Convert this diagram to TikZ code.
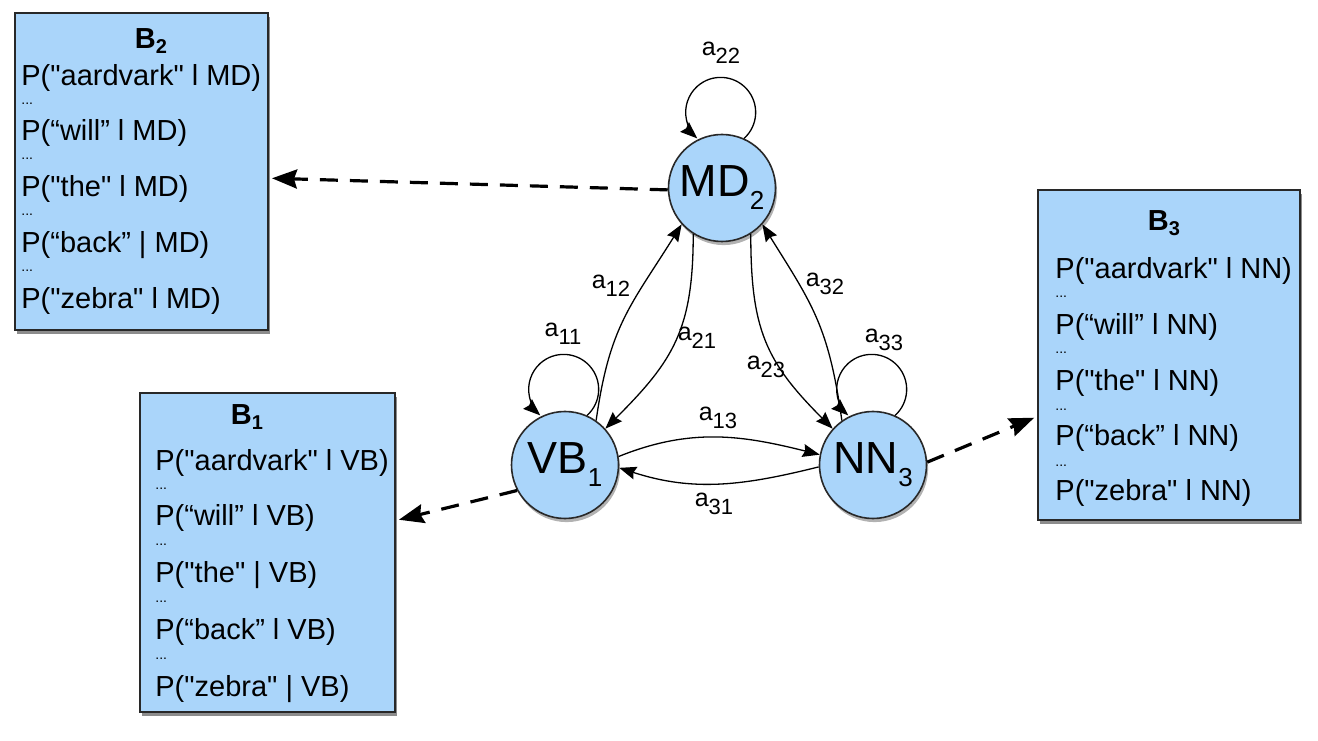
\documentclass[tikz,border=0pt]{standalone}
\usepackage{fontspec}
\setmainfont{Liberation Sans}[Ligatures=TeXOff]
\usetikzlibrary{arrows.meta,shadows}

\definecolor{stateblue}{RGB}{170,213,250}
\definecolor{edgegray}{RGB}{40,40,40}

% transition label a_{ij}
\newcommand\asub[1]{a\raisebox{-4pt}{\fontsize{11}{11}\selectfont #1}}
% state label with index
\newcommand\statelab[2]{#1\raisebox{-6.5pt}{\fontsize{13}{13}\selectfont #2}}
% emission box heading B_i
\newcommand\boxtitle[1]{\textbf{B\raisebox{-2.5pt}{\fontsize{10}{10}\selectfont #1}}}

\begin{document}
\begin{tikzpicture}[x=0.5pt,y=0.5pt,
  state/.style={circle, draw=edgegray, line width=0.8pt, fill=stateblue,
    minimum size=53.5pt, inner sep=0pt, font=\fontsize{22.5}{22.5}\selectfont,
    drop shadow={shadow xshift=0.8pt, shadow yshift=-1.8pt, opacity=0.3, fill=black}},
  emitbox/.style={rectangle, draw=edgegray, line width=1pt, fill=stateblue, inner sep=0pt,
    drop shadow={shadow xshift=1.2pt, shadow yshift=-2pt, opacity=0.45, fill=black}},
  boxline/.style={anchor=west, inner sep=0pt, font=\fontsize{14.5}{14.5}\selectfont},
  boxdots/.style={anchor=west, inner sep=0pt, font=\fontsize{7}{7}\selectfont},
  boxhead/.style={inner sep=0pt, font=\fontsize{14.5}{14.5}\selectfont},
  trans/.style={-{Stealth[length=8.5pt,width=6.5pt,inset=1pt]}, line width=0.65pt, draw=black},
  emit/.style={-{Stealth[length=12.5pt,width=9.5pt,inset=1.5pt]}, line width=1.6pt,
    dash pattern=on 9pt off 6pt, shorten >=1.5pt},
  lab/.style={inner sep=0pt, font=\fontsize{12.5}{12.5}\selectfont}
]
\fill[white] (0,0) rectangle (1318,740);
\useasboundingbox (0,0) rectangle (1318,740);

% emission boxes
\node[emitbox, minimum width=126.5pt, minimum height=158.5pt] (B2) at (141.5,568.5) {};
\node[emitbox, minimum width=127.5pt, minimum height=159.5pt] (B1) at (267.5,187.5) {};
\node[emitbox, minimum width=131pt, minimum height=165pt] (B3) at (1169,385) {};

% B2 contents
\node[boxhead] (b2t) at (151,699) {\boxtitle{2}};
\node[boxline] (b2a) at (21,662) {P("aardvark" l MD)};
\node[boxdots] (b2d1) at (21,636) {...};
\node[boxline] (b2b) at (21,607) {P(“will” l MD)};
\node[boxdots] (b2d2) at (21,581) {...};
\node[boxline] (b2c) at (21,551) {P("the" l MD)};
\node[boxdots] (b2d3) at (21,525) {...};
\node[boxline] (b2e) at (21,495) {P(“back” | MD)};
\node[boxdots] (b2d4) at (21,469) {...};
\node[boxline] (b2f) at (21,439) {P("zebra" l MD)};

% B1 contents
\node[boxhead] (b1t) at (247,323) {\boxtitle{1}};
\node[boxline] (b1a) at (155,277) {P("aardvark" l VB)};
\node[boxdots] (b1d1) at (155,251) {...};
\node[boxline] (b1b) at (155,222) {P(“will” l VB)};
\node[boxdots] (b1d2) at (155,195) {...};
\node[boxline] (b1c) at (155,165) {P("the" | VB)};
\node[boxdots] (b1d3) at (155,138) {...};
\node[boxline] (b1e) at (155,108) {P(“back” l VB)};
\node[boxdots] (b1d4) at (155,81) {...};
\node[boxline] (b1f) at (155,51) {P("zebra" | VB)};

% B3 contents
\node[boxhead] (b3t) at (1164,517) {\boxtitle{3}};
\node[boxline] (b3a) at (1055,469) {P("aardvark" l NN)};
\node[boxdots] (b3d1) at (1055,443) {...};
\node[boxline] (b3b) at (1055,413) {P(“will” l NN)};
\node[boxdots] (b3d2) at (1055,387) {...};
\node[boxline] (b3c) at (1055,357) {P("the" l NN)};
\node[boxdots] (b3d3) at (1055,330) {...};
\node[boxline] (b3e) at (1055,302) {P(“back” l NN)};
\node[boxdots] (b3d4) at (1055,274) {...};
\node[boxline] (b3f) at (1055,247) {P("zebra" l NN)};

% hidden states
\node[state] (MD) at (722,552) {\statelab{MD}{2}};
\node[state] (VB) at (565,275) {\statelab{VB}{1}};
\node[state] (NN) at (873,275) {\statelab{NN}{3}};

% transitions between states
\draw[trans] (VB.55) to[out=82,in=238,looseness=1.15] (MD.222);
\draw[trans] (MD.238) to[out=270,in=45,looseness=1.15] (VB.42);
\draw[trans] (NN.125) to[out=98,in=302,looseness=1.15] (MD.318);
\draw[trans] (MD.302) to[out=270,in=135,looseness=1.15] (NN.138);
\draw[trans] (VB.9) to[out=22,in=166] (NN.169);
\draw[trans] (NN.182) to[out=194,in=-18] (VB.357);

% self loops
\draw[trans] (MD.66) arc[start angle=-48,end angle=228,radius=17.5pt];
\draw[trans] (VB.66) arc[start angle=-48,end angle=228,radius=17.5pt];
\draw[trans] (NN.66) arc[start angle=-48,end angle=228,radius=17.5pt];

% transition labels
\node[lab] (l22) at (721,687) {\asub{22}};
\node[lab] (l12) at (611,454) {\asub{12}};
\node[lab] (l21) at (697,402) {\asub{21}};
\node[lab] (l32) at (825,456) {\asub{32}};
\node[lab] (l23) at (766,373) {\asub{23}};
\node[lab] (l11) at (563,406) {\asub{11}};
\node[lab] (l33) at (884,400) {\asub{33}};
\node[lab] (l13) at (718,322) {\asub{13}};
\node[lab] (l31) at (714,236) {\asub{31}};

% emissions
\draw[emit] (MD.182) -- (B2.357);
\draw[emit] (VB.208) -- (B1.14);
\draw[emit] (NN.3) -- (B3.205);
\end{tikzpicture}
\end{document}
